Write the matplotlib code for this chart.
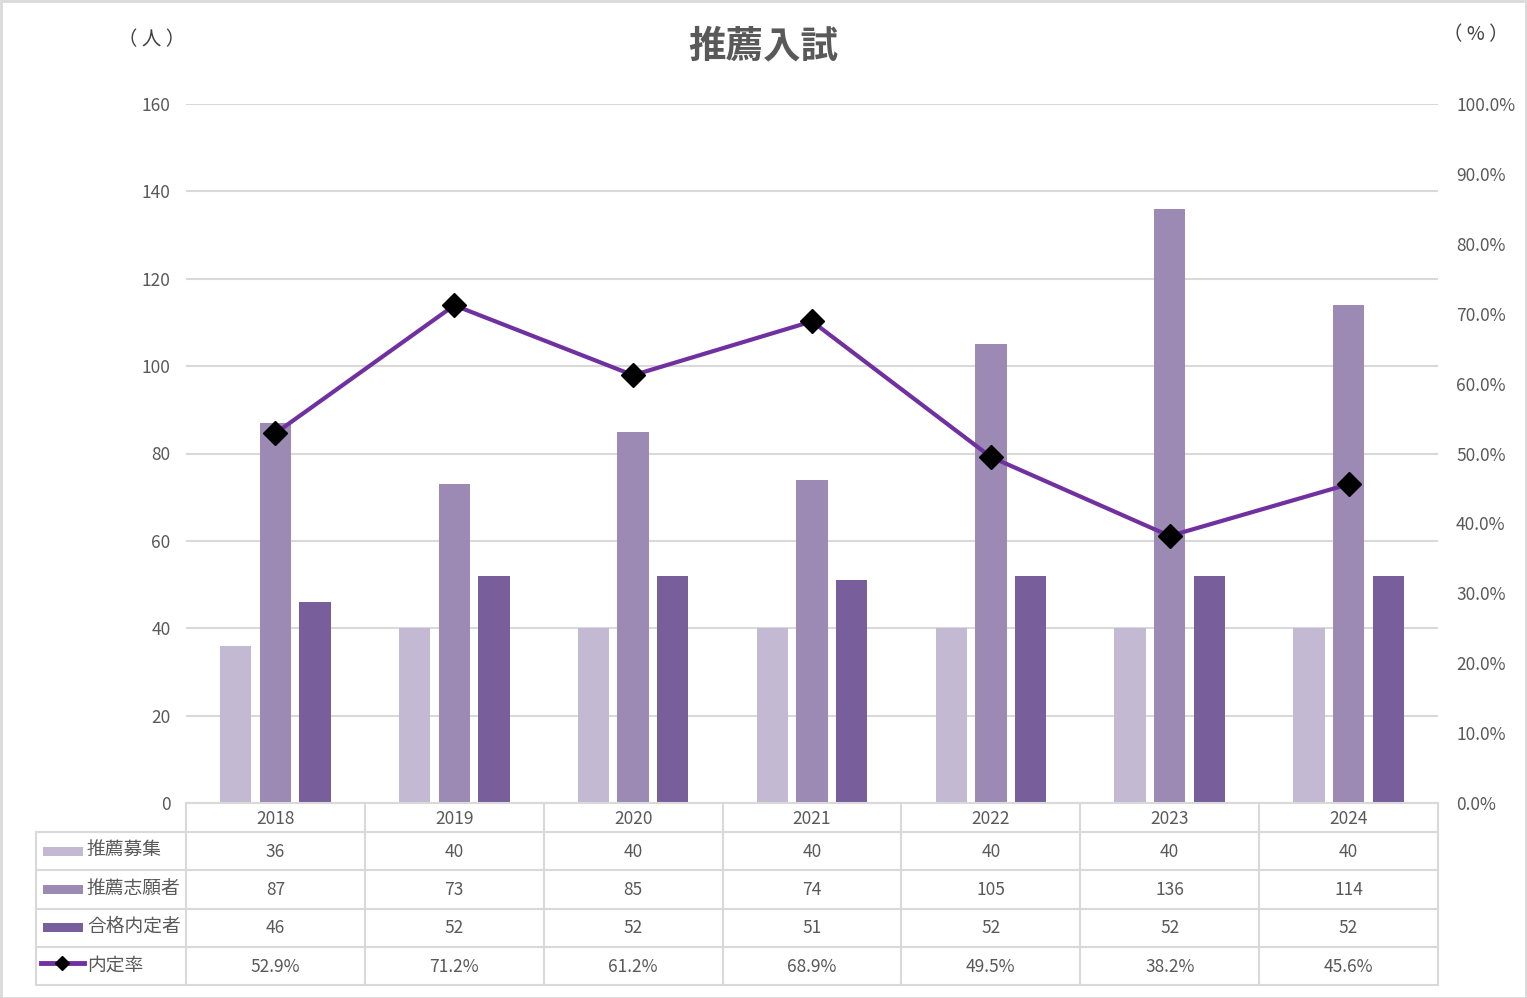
import numpy as np
import matplotlib.pyplot as plt
from matplotlib.transforms import blended_transform_factory
from matplotlib.lines import Line2D
from matplotlib.patches import Rectangle

plt.rcParams['font.family'] = ['Noto Sans CJK JP', 'DejaVu Sans']

# data
years = ["2018", "2019", "2020", "2021", "2022", "2023", "2024"]
boshu = [36, 40, 40, 40, 40, 40, 40]          # 推薦募集
shigan = [87, 73, 85, 74, 105, 136, 114]      # 推薦志願者
naitei = [46, 52, 52, 51, 52, 52, 52]         # 合格内定者
rate = [52.9, 71.2, 61.2, 68.9, 49.5, 38.2, 45.6]  # 内定率 (%)

names = ["推薦募集", "推薦志願者", "合格内定者", "内定率"]
colors = ["#c3b9d2", "#9c8ab4", "#785e9a"]
line_color = "#7030a0"
txt = "#595959"
grid_c = "#d9d9d9"

W, H = 1527, 998
fig = plt.figure(figsize=(W / 100, H / 100), dpi=100)

def fx(px):
    return px / W

def fy(py):
    return 1 - py / H

ax = fig.add_axes([fx(186), fy(803), fx(1438) - fx(186), fy(104) - fy(803)])
x = np.arange(len(years))
bw = 0.175
step = 0.222
for i, vals in enumerate([boshu, shigan, naitei]):
    ax.bar(x + (i - 1) * step, vals, width=bw, color=colors[i], zorder=2)

ax.set_xlim(-0.5, len(years) - 0.5)
ax.set_ylim(0, 160)
ax.set_yticks(np.arange(0, 161, 20))
ax.set_xticks([])
ax.grid(axis='y', color=grid_c, linewidth=1.5, zorder=0)
ax.set_axisbelow(True)
for s in ax.spines.values():
    s.set_visible(False)
ax.tick_params(axis='y', length=0, pad=11, labelsize=12.5, labelcolor=txt)

ax2 = ax.twinx()
ax2.plot(x, np.array(rate) / 100, color=line_color, linewidth=3, marker='D',
         markersize=12, markerfacecolor='black', markeredgecolor='black', zorder=5)
ax2.set_ylim(0, 1.0)
ax2.set_yticks(np.arange(0, 1.01, 0.1))
ax2.set_yticklabels([f"{v * 100:.1f}%" for v in np.arange(0, 1.01, 0.1)])
for s in ax2.spines.values():
    s.set_visible(False)
ax2.tick_params(axis='y', length=0, pad=13, labelsize=12.5, labelcolor=txt)

fig.text(fx(763), fy(46), "推薦入試", ha='center', va='center', fontsize=27,
         fontweight='bold', color=txt)
fig.text(fx(152), fy(40), "（ 人 ）", ha='center', va='center', fontsize=14, color="#404040")
fig.text(fx(1476), fy(35), "（ % ）", ha='center', va='center', fontsize=14, color="#404040")

# data table under the chart
tr = blended_transform_factory(ax.transData, fig.transFigure)
rows_y = [803, 832, 870, 909, 947, 985]
lw_t = 1.5
# horizontal lines
fig.add_artist(Line2D([fx(186), fx(1438)], [fy(803), fy(803)], color=grid_c, lw=lw_t))
for ry in rows_y[1:]:
    fig.add_artist(Line2D([fx(36), fx(1438)], [fy(ry), fy(ry)], color=grid_c, lw=lw_t))
# vertical lines
for k in range(len(years) + 1):
    fig.add_artist(Line2D([k - 0.5, k - 0.5], [fy(803), fy(985)], color=grid_c,
                          lw=lw_t, transform=tr))
fig.add_artist(Line2D([fx(36), fx(36)], [fy(832), fy(985)], color=grid_c, lw=lw_t))

centers_y = [819, 852, 890, 928, 967]
for i, yr in enumerate(years):
    fig.text(x[i], fy(centers_y[0]), yr, ha='center', va='center', fontsize=12.5,
             color=txt, transform=tr)
    for r, vals in enumerate([boshu, shigan, naitei]):
        fig.text(x[i], fy(centers_y[r + 1]), str(vals[i]), ha='center', va='center',
                 fontsize=12.5, color=txt, transform=tr)
    fig.text(x[i], fy(centers_y[4]), f"{rate[i]:.1f}%", ha='center', va='center',
             fontsize=12.5, color=txt, transform=tr)

# legend keys in first column
for r in range(3):
    cy = centers_y[r + 1] - 1
    fig.add_artist(Rectangle((fx(43), fy(cy + 5)), fx(83) - fx(43), fy(cy - 4) - fy(cy + 5),
                             facecolor=colors[r], edgecolor='none'))
    fig.text(fx(87), fy(cy - 1), names[r], ha='left', va='center', fontsize=13.5, color=txt)
cy = centers_y[4] - 1
fig.add_artist(Line2D([fx(41), fx(84)], [fy(cy - 3), fy(cy - 3)], color=line_color, lw=3.5))
fig.add_artist(Line2D([fx(62)], [fy(cy - 3)], marker='D', markersize=7, color='black'))
fig.text(fx(87), fy(cy - 1), names[3], ha='left', va='center', fontsize=13.5, color=txt)

# outer frame
fig.add_artist(Rectangle((0.5 / W, 0.5 / H), 1 - 1.5 / W, 1 - 1.5 / H, fill=False,
                         edgecolor=grid_c, lw=2))

fig.savefig("out.png", dpi=100)
